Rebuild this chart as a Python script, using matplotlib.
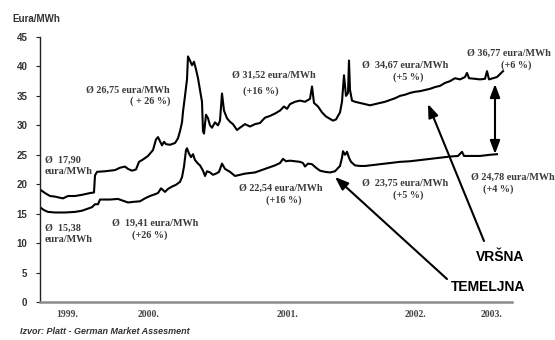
import matplotlib
matplotlib.use("Agg")
import matplotlib.pyplot as plt

# ---- data (time in fractional years, price in eura/MWh) ----
PX0, PXY = 40.0, 112.0  # helper to turn read positions into years
def yrs(p):
    return [round(1999 + (v - PX0) / PXY, 4) for v in p]

peak_px = [40, 45, 50, 55, 60, 63, 68, 75, 82, 90, 94, 95, 97, 105, 115, 120, 125, 128, 132, 136,
           139, 143, 148, 153, 156, 158, 160, 162, 164, 166, 170, 175, 178, 180, 182, 183, 185, 187,
           188, 190, 192, 194, 196, 198, 200, 202, 203, 204, 206, 208, 210, 212, 215, 218, 220, 222,
           224, 227, 230, 233, 237, 240, 245, 250, 255, 260, 265, 270, 275, 280, 284, 287, 290, 295,
           300, 305, 310, 312, 314, 318, 322, 326, 330, 333, 336, 340, 342, 344, 346, 348, 349, 350,
           352, 355, 360, 365, 370, 375, 380, 385, 390, 395, 400, 405, 410, 415, 420, 425, 430, 435,
           440, 445, 450, 455, 460, 465, 467, 469, 475, 480, 485, 487, 489, 493, 497, 500, 503]
peak_val = [19.1, 18.5, 18.0, 17.9, 17.7, 17.6, 18.0, 18.0, 18.2, 18.5, 18.6, 21.5, 22.1, 22.2, 22.4,
            22.8, 23.0, 22.6, 22.3, 22.5, 23.8, 24.2, 24.8, 25.8, 27.6, 28.0, 27.3, 26.6, 27.2, 26.8,
            26.7, 27.0, 27.8, 29.0, 30.5, 32.3, 35.0, 37.8, 41.7, 41.0, 40.2, 40.8, 39.5, 38.0, 36.0,
            34.0, 29.0, 28.6, 31.8, 31.2, 30.0, 29.6, 30.5, 30.0, 30.8, 35.4, 32.5, 31.2, 30.6, 30.2,
            29.2, 29.6, 30.2, 29.8, 30.2, 30.4, 31.3, 31.6, 32.0, 32.5, 33.2, 32.8, 33.6, 34.0, 34.2,
            34.0, 34.5, 36.6, 33.8, 33.2, 32.2, 31.5, 31.1, 30.8, 31.0, 32.2, 34.0, 38.5, 35.0, 35.5,
            41.0, 36.0, 34.2, 34.0, 33.8, 33.6, 33.4, 33.6, 33.8, 34.0, 34.3, 34.6, 35.0, 35.2, 35.5,
            35.7, 35.8, 36.0, 36.2, 36.5, 36.7, 37.2, 37.5, 38.0, 37.8, 38.2, 38.9, 38.0, 37.9, 37.8,
            37.9, 39.2, 37.8, 38.0, 38.2, 38.7, 39.2]

base_px = [40, 44, 48, 55, 65, 75, 82, 87, 92, 95, 98, 100, 110, 118, 123, 128, 133, 140, 145, 150,
           155, 158, 161, 163, 165, 168, 172, 176, 180, 182, 184, 186, 187, 189, 191, 193, 195, 198,
           200, 203, 205, 207, 210, 213, 216, 219, 222, 225, 230, 235, 240, 245, 250, 255, 260, 265,
           270, 275, 280, 283, 286, 290, 295, 300, 303, 305, 308, 312, 316, 320, 325, 330, 335, 340,
           342, 343, 345, 347, 349, 351, 355, 360, 365, 370, 375, 380, 390, 400, 410, 420, 430, 440,
           450, 458, 462, 464, 470, 480, 490, 497]
base_val = [16.1, 15.6, 15.3, 15.2, 15.2, 15.3, 15.5, 15.8, 16.1, 16.6, 16.6, 17.4, 17.4, 17.5, 17.2,
            16.9, 17.0, 17.1, 17.6, 18.0, 18.3, 18.5, 19.3, 19.0, 18.7, 19.2, 19.6, 19.9, 20.4, 21.2,
            23.0, 25.8, 26.1, 25.2, 24.6, 25.1, 24.1, 23.5, 23.2, 22.3, 21.4, 22.2, 22.0, 21.6, 21.8,
            22.1, 23.5, 22.6, 22.1, 21.4, 21.6, 21.8, 21.9, 22.0, 22.3, 22.6, 22.9, 23.2, 23.6, 24.3,
            23.9, 24.0, 23.9, 23.8, 23.6, 23.0, 23.5, 23.4, 22.8, 22.3, 22.1, 22.0, 22.2, 23.1, 24.5,
            25.6, 25.0, 25.5, 24.5, 23.8, 23.2, 23.1, 23.1, 23.2, 23.3, 23.4, 23.6, 23.8, 23.9, 24.1,
            24.3, 24.5, 24.7, 24.8, 25.5, 24.8, 24.8, 24.8, 25.0, 25.1]

peak_t = yrs(peak_px)
base_t = yrs(base_px)

year_labels = ["1999.", "2000.", "2001.", "2002.", "2003."]
year_pos = yrs([67, 148, 287, 415, 492])
y_ticks = [0, 5, 10, 15, 20, 25, 30, 35, 40, 45]

# ---- figure ----
fig = plt.figure(figsize=(5.55, 3.4), dpi=100)
ax = fig.add_axes([40 / 555, 1 - 302 / 340, 472 / 555, (302 - 37) / 340])
ax.set_xlim(1999, 1999 + 472 / PXY)
ax.set_ylim(0, 45)

ax.plot(peak_t, peak_val, color="black", lw=1.5, solid_joinstyle="round")
ax.plot(base_t, base_val, color="black", lw=1.5, solid_joinstyle="round")

for s in ["top", "right"]:
    ax.spines[s].set_visible(False)
ax.spines["left"].set_color("#222222")
ax.spines["left"].set_linewidth(1.0)
ax.spines["bottom"].set_color("#8a8a8a")
ax.spines["bottom"].set_linewidth(1.8)

ax.set_yticks(y_ticks)
ax.set_yticklabels([str(v) for v in y_ticks], fontfamily="Liberation Sans",
                   fontweight="bold", fontsize=7, color="#333333")
ax.tick_params(axis="y", length=3, width=0.8, pad=6, color="#222222")
ax.set_xticks(year_pos)
ax.set_xticklabels(year_labels, fontfamily="Liberation Serif", fontweight="bold",
                   fontsize=7, color="#444444")
ax.tick_params(axis="x", length=0, pad=6)

fig.text(12 / 555, 1 - 19 / 340, "Eura/MWh", fontfamily="Liberation Sans",
         fontweight="bold", fontsize=7, color="#333333", va="center", ha="left")
fig.text(20 / 555, 1 - 331 / 340, "Izvor: Platt - German Market Assesment",
         fontfamily="Liberation Sans", fontweight="bold", fontstyle="italic",
         fontsize=6.5, color="#333333", va="center", ha="left")

def px_to_data(px, py):
    return 1999 + (px - PX0) / PXY, (302 - py) / (265 / 45)

def note(px, py, txt, ha="center"):
    x, y = px_to_data(px, py)
    ax.text(x, y, txt, fontfamily="Liberation Serif", fontweight="bold", fontsize=7.3,
            color="#3a3a3a", ha=ha, va="center", clip_on=False)

note(170, 90, "Ø 26,75 eura/MWh", ha="right")
note(170, 101, "( + 26 %)", ha="right")
note(274, 75, "Ø 31,52 eura/MWh")
note(261, 91, "(+16 %)")
note(405, 65, "Ø  34,67 eura/MWh")
note(408, 77, "(+5 %)")
note(509, 53, "Ø 36,77 eura/MWh")
note(516, 65, "(+6 %)")
note(45, 160, "Ø  17,90", ha="left")
note(45, 171, "eura/MWh", ha="left")
note(45, 228, "Ø  15,38", ha="left")
note(45, 240, "eura/MWh", ha="left")
note(155, 223, "Ø  19,41 eura/MWh")
note(150, 235, "(+26 %)")
note(281, 188, "Ø 22,54 eura/MWh")
note(284, 200, "(+16 %)")
note(405, 183, "Ø  23,75 eura/MWh")
note(408, 195, "(+5 %)")
note(513, 177, "Ø 24,78 eura/MWh")
note(498, 189, "(+4 %)")

def big(px, py, txt):
    x, y = px_to_data(px, py)
    ax.text(x, y, txt, fontfamily="Liberation Sans", fontweight="bold", fontsize=10,
            color="black", ha="left", va="center", clip_on=False)

big(476, 257, "VRŠNA")
big(451, 287, "TEMELJNA")

arrow_kw = dict(arrowstyle="-|>,head_length=0.8,head_width=0.3", color="black", lw=1.5,
                shrinkA=0, shrinkB=0)
ax.annotate("", xy=px_to_data(428, 104), xytext=px_to_data(484, 241),
            arrowprops=arrow_kw, annotation_clip=False)
ax.annotate("", xy=px_to_data(335, 177), xytext=px_to_data(447, 279),
            arrowprops=arrow_kw, annotation_clip=False)
ax.annotate("", xy=px_to_data(495, 84), xytext=px_to_data(495, 154),
            arrowprops=dict(arrowstyle="<|-|>,head_length=0.8,head_width=0.3", color="black",
                            lw=1.5, shrinkA=0, shrinkB=0), annotation_clip=False)

fig.savefig("out.png", dpi=100)
